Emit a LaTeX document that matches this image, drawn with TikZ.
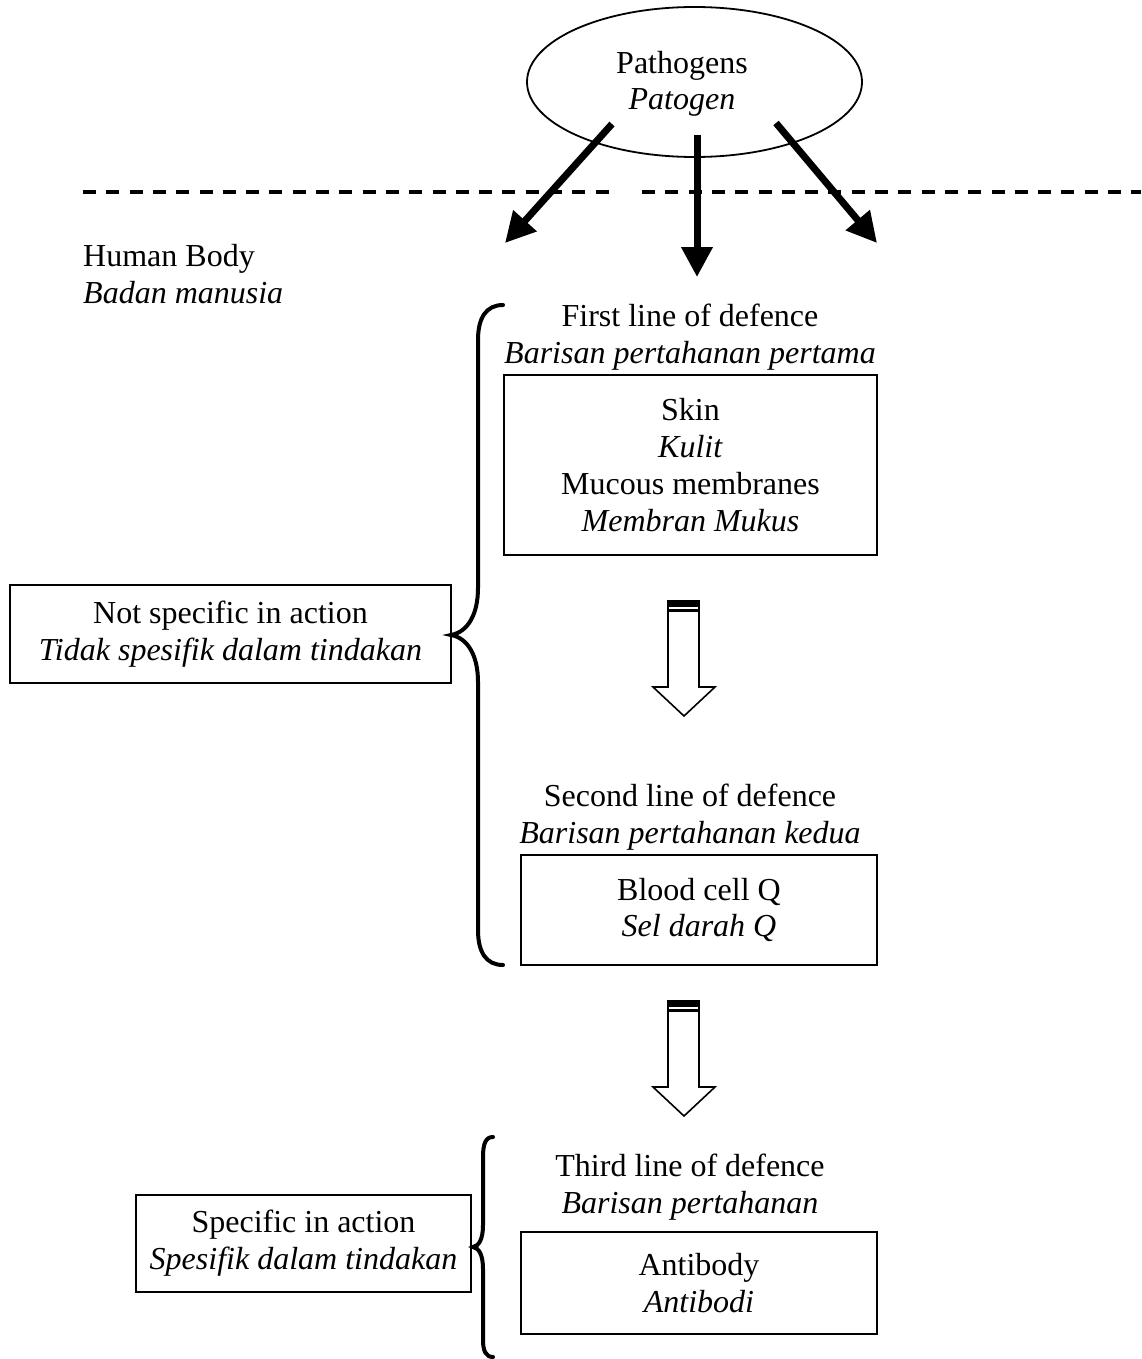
\documentclass[tikz,border=0pt]{standalone}
\usepackage{fontspec}
\setmainfont{Liberation Serif}
\usetikzlibrary{arrows.meta,shapes.geometric}
\begin{document}
\begin{tikzpicture}[x=1pt,y=-1pt,
  every node/.style={font=\fontsize{32}{36.8}\selectfont, inner sep=0pt},
  box/.style={draw, line width=2pt, align=center},
  lbl/.style={align=center, anchor=base},
  patharrow/.style={line width=7pt, -{Triangle[length=30pt,width=30pt]}},
  bracestyle/.style={line width=4pt, line cap=round},
  blockarrow/.style={draw, line width=1.6pt, fill=white, line join=miter},
  dashline/.style={line width=4pt, dash pattern=on 13pt off 10.3pt}]
\useasboundingbox (0,0) rectangle (1141,1359);

% boundary line
\draw[dashline] (83,192) -- (612,192);
\draw[dashline] (642,192) -- (1141,192);

% pathogens
\node[draw, ellipse, line width=1.8pt, minimum width=335pt, minimum height=150pt] (path) at (694.5,82) {};
\node[lbl] (pathtxt) at (682,110) {Pathogens\\\textit{Patogen}};

\coordinate (a1s) at (612,124);
\coordinate (a1e) at (505,243);
\coordinate (a2s) at (697,135);
\coordinate (a2e) at (697,277);
\coordinate (a3s) at (776,123);
\coordinate (a3e) at (877,243);
\draw[patharrow] (a1s) -- (a1e);
\draw[patharrow] (a2s) -- (a2e);
\draw[patharrow] (a3s) -- (a3e);

% human body
\node[align=left, anchor=base west] (hb) at (83,303) {Human Body\\\textit{Badan manusia}};

% first line
\node[lbl] (l1) at (690,363) {First line of defence\\\textit{Barisan pertahanan pertama}};
\node[box, minimum width=373pt, minimum height=180pt] (b1) at (690.5,465) {Skin\\\textit{Kulit}\\Mucous membranes\\\textit{Membran Mukus}};

% block arrow 1
\draw[blockarrow] (668,601) -- (699,601) -- (699,687) -- (715,687) -- (684,716) -- (653,687) -- (668,687) -- cycle;
\fill (668,601) rectangle (699,606.5);
\fill (668,608.5) rectangle (699,611.5);

% second line
\node[lbl] (l2) at (690,843) {Second line of defence\\\textit{Barisan pertahanan kedua}};
\node[box, minimum width=356pt, minimum height=110pt] (b2) at (699,910) {Blood cell Q\\\textit{Sel darah Q}};

% block arrow 2
\draw[blockarrow] (668,1001) -- (699,1001) -- (699,1087) -- (715,1087) -- (684,1116) -- (653,1087) -- (668,1087) -- cycle;
\fill (668,1001) rectangle (699,1006.5);
\fill (668,1008.5) rectangle (699,1011.5);

% third line
\node[lbl] (l3) at (690,1213) {Third line of defence\\\textit{Barisan pertahanan}};
\node[box, minimum width=356pt, minimum height=102pt] (b3) at (699,1283) {Antibody\\\textit{Antibodi}};

% side boxes
\node[box, minimum width=441pt, minimum height=98pt] (n1) at (230.5,634) {Not specific in action\\\textit{Tidak spesifik dalam tindakan}};
\node[box, minimum width=335pt, minimum height=97pt] (n2) at (303.5,1243.5) {Specific in action\\\textit{Spesifik dalam tindakan}};

% braces
\draw[bracestyle] (503,305) .. controls (486,305) and (478,318) .. (478,340) -- (478,588)
  .. controls (478,614) and (468,632) .. (451,635)
  .. controls (468,638) and (478,656) .. (478,682) -- (478,930)
  .. controls (478,952) and (486,965) .. (503,965);
\draw[bracestyle] (493,1137) .. controls (486,1137) and (483,1143) .. (483,1157) -- (483,1225)
  .. controls (483,1239) and (479,1246) .. (473,1247)
  .. controls (479,1248) and (483,1255) .. (483,1269) -- (483,1340)
  .. controls (483,1351) and (486,1357) .. (493,1357);
\end{tikzpicture}
\end{document}
